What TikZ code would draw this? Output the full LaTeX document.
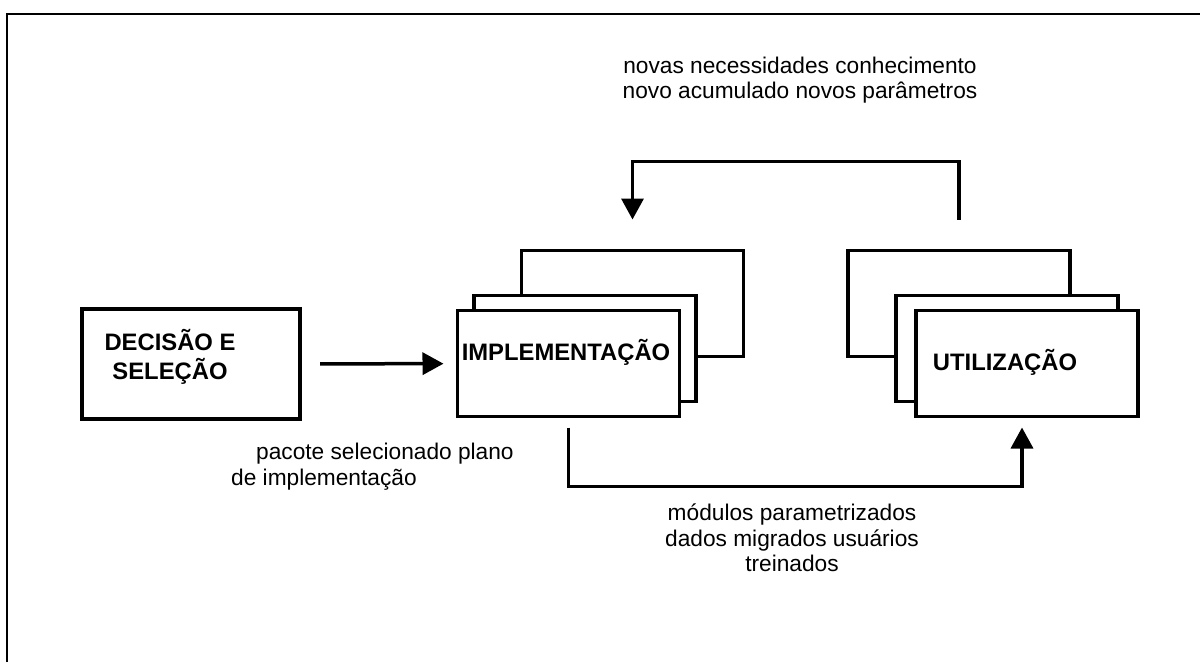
\documentclass[tikz,border=0pt]{standalone}
\usepackage{fontspec}
\setmainfont{Liberation Sans}
\usetikzlibrary{arrows.meta}
\tikzset{
  box/.style={draw, line width=3.5pt, fill=white, minimum width=222pt, minimum height=106pt, inner sep=0pt, outer sep=0pt},
  conn/.style={line width=3.5pt, -{Triangle[length=21pt,width=22pt]}},
  lbl/.style={font=\fontsize{22.7}{25.5}\selectfont, align=center, inner sep=0pt},
  title/.style={font=\bfseries\fontsize{23.8}{29}\selectfont, align=center, inner sep=0pt}
}
\begin{document}
\begin{tikzpicture}[x=1pt,y=-1pt]
    \useasboundingbox (0,0) rectangle (1200,662);
    \draw[line width=2pt] (7,662) -- (7,13.5) -- (1200,13.5);
    \node[box, minimum width=218pt, minimum height=110pt] (dec) at (191,364) {};
    \node[title] (dectxt) at (170,357) {DECISÃO E\\SELEÇÃO};
    \node[box] (implback) at (632.5,303.5) {};
    \node[box] (implmid) at (585,348.5) {};
    \node[box] (impl) at (568.5,363.5) {};
    \node[title, anchor=base] (impltxt) at (566,360) {IMPLEMENTAÇÃO};
    \node[box] (utilback) at (959,303.5) {};
    \node[box] (utilmid) at (1007,348.5) {};
    \node[box] (util) at (1027,363.5) {};
    \node[title, anchor=base] (utiltxt) at (1005,370) {UTILIZAÇÃO};
    \draw[conn, shorten <=20pt, shorten >=14pt] (dec) -- (impl);
    \draw[conn, shorten <=31pt, shorten >=31pt] (utilback.north) -- ++(0,-89) -| (implback.north);
    \draw[conn, shorten <=11pt, shorten >=11pt] (impl.south) -- ++(0,70) -| ([xshift=-5pt]util.south);
    \node[lbl] (newneeds) at (800,80) {novas necessidades conhecimento\\novo acumulado novos parâmetros};
    \node[lbl, align=left, anchor=west] (package) at (231,466.5) {\hspace*{25pt}pacote selecionado plano\\de implementação};
    \node[lbl] (modules) at (792,538) {módulos parametrizados\\dados migrados usuários\\treinados};
  \end{tikzpicture}
\end{document}
